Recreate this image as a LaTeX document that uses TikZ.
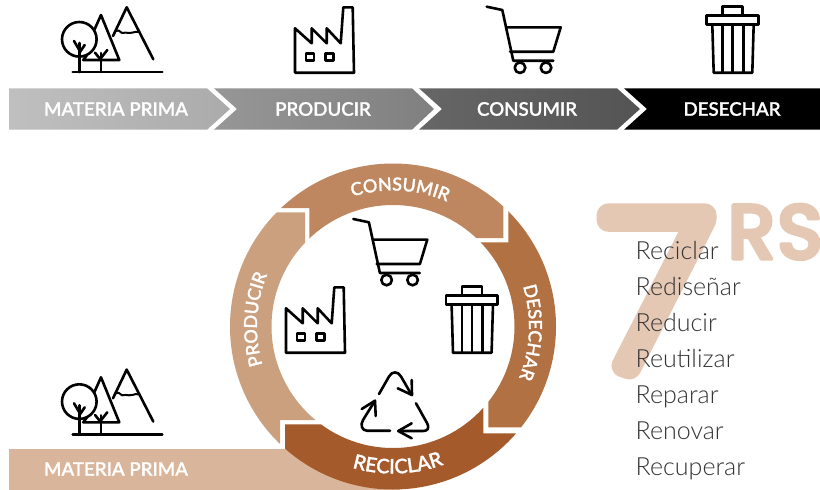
\documentclass[tikz,border=0pt]{standalone}
\usepackage{fontspec}
\setmainfont{Lato}
\newfontfamily\labfont[RawFeature={embolden=1.6}]{Lato Medium}
\newfontfamily\listfont{Lato Light}
\newfontfamily\sevenfont[RawFeature={embolden=10.5;extend=1.2}]{Fira Sans Thin}
\newfontfamily\rsfont[RawFeature={embolden=4}]{Poppins Medium}
\usetikzlibrary{decorations.text}
\definecolor{cPro}{HTML}{CBA07E}
\definecolor{cCon}{HTML}{BE875F}
\definecolor{cDes}{HTML}{B27142}
\definecolor{cRec}{HTML}{A55A2B}
\definecolor{cMat}{HTML}{D9B69B}
\definecolor{cSev}{HTML}{E5C8B4}
\definecolor{cTxt}{HTML}{333333}
\tikzset{
 x=1pt,y=-1pt,
 icon/.style={line width=2.6pt,line cap=round,line join=round,draw=black},
 barlabel/.style={font=\labfont\fontsize{18.7}{19}\selectfont,text=white,inner sep=0pt,anchor=center},
 listitem/.style={font=\listfont\fontsize{25}{25}\selectfont,text=cTxt,inner sep=0pt,anchor=base west},
 forest/.pic={
  \draw[icon] (72.7,72)--(162.3,72);
  \draw[icon] (79.3,39.3) circle[radius=17.3pt];
  \draw[icon] (79.3,72)--(79.3,43);
  \draw[icon] (74,41)--(79.3,50) (84.7,45)--(79.3,53);
  \draw[icon] (94.3,30)--(101,15)--(119.3,60)--(83.3,60)--(87,55);
  \draw[icon] (101,72)--(101,53);
  \draw[icon] (95,52.7)--(101,60) (107.3,50)--(101,58);
  \draw[icon] (113,36)--(126.7,7.3)--(153.3,59.3);
  \draw[icon,line width=2pt] (116,31) .. controls (118,29) and (119,31) .. (122,33) .. controls (125,34) and (126,31) .. (129,33) .. controls (132,34) and (134,31) .. (138,32);
 },
 factory/.pic={
  \draw[icon] (295,72.7)--(295,28.3)--(311.7,43.3)--(311.7,28.3)--(326.7,43.3)--(326.7,28.3)--(340.7,43.3)--(343.3,7.3)--(352.7,7.3)--(354,72.7)--cycle;
  \draw[icon] (306,53.3) rectangle (314,60.7);
  \draw[icon] (325.7,53.3) rectangle (333.5,60.7);
 },
 cart/.pic={
  \draw[icon] (486.7,6.7)--(502.3,10)--(513.3,60.7)--(553.3,60.7);
  \draw[icon] (506.7,27.3)--(560.7,27.3)--(553.3,51.7)--(510,51.7);
  \draw[icon] (520,67.7) circle[radius=5.3pt];
  \draw[icon] (546,67.7) circle[radius=5.3pt];
 },
 trash/.pic={
  \draw[icon] (706.7,15.7) rectangle (758.3,24.3);
  \draw[icon] (722.7,15.7)--(722.7,6.7)--(742.7,6.7)--(742.7,15.7);
  \draw[icon] (712.3,24.3)--(713.7,72.7)--(752.3,72.7)--(753.7,24.3);
  \draw[icon] (722.7,24.3)--(722.7,72.7) (732.7,24.3)--(732.7,72.7) (743.3,24.3)--(743.3,72.7);
 },
 recycle/.pic={
  \draw[icon] (379,394) -- (389,376.5) .. controls (392,371) and (398,371) .. (401,376.5) -- (411.7,395);
  \draw[icon] (397.7,388.3)--(412,395)--(411.7,380);
  \draw[icon] (416,403.3)--(427,423) .. controls (430,429) and (427,431) .. (423,431) -- (398.3,431);
  \draw[icon] (411.7,423.3)--(398.3,431)--(411.7,438.3);
  \draw[icon] (390,430.7)--(367,430.7) .. controls (362,430.7) and (360,425) .. (363,420) -- (375,400.7);
  \draw[icon] (361.7,409)--(375,400.7)--(375.7,416);
 }
}
\newcommand{\ringfill}[1]{\fill[#1,even odd rule] (393,326.5) circle[radius=163pt] (393,326.5) circle[radius=121.5pt];}
\newcommand{\ringtext}[5]{\path[decorate,decoration={text along path,text align=center,text={|\labfont\fontsize{#5}{#5}\selectfont\color{white}|#1}}] (393,326.5) ++(#2:#4 pt) arc[start angle=#2,end angle=#3,radius=#4 pt];}
\begin{document}
\begin{tikzpicture}
\useasboundingbox (0,0) rectangle (820,490);
\fill[white] (0,0) rectangle (820,490);
% top bar
\shade[left color=black!25,right color=black!33] (9,88.3)--(207,88.3)--(230,109)--(207,129.7)--(9,129.7)--cycle;
\shade[left color=black!41,right color=black!50] (214,88.3)--(412,88.3)--(434,109)--(412,129.7)--(214,129.7)--(237,109)--cycle;
\shade[left color=black!60,right color=black!67] (419,88.3)--(617,88.3)--(640,109)--(617,129.7)--(419,129.7)--(442,109)--cycle;
\fill[black] (624,88.3)--(820,88.3)--(820,129.7)--(624,129.7)--(647,109)--cycle;
\node[barlabel] (t1) at (116,109) {MATERIA PRIMA};
\node[barlabel] (t2) at (323,109) {PRODUCIR};
\node[barlabel] (t3) at (527,109) {CONSUMIR};
\node[barlabel] (t4) at (732,109) {DESECHAR};
\pic at (0,0) {forest};
\pic at (0,0) {factory};
\pic at (0,0) {cart};
\pic at (0,0) {trash};
% strip
\fill[cMat] (9,449.3) rectangle (400,490);
% ring
\begin{scope}
\clip (393,326.5)--(330,420)--(280,420)--(280,500)--(180,500)--(180,212.3)--(305,212.3)--(305,250)--cycle;
\ringfill{cPro}
\end{scope}
\begin{scope}
\clip (393,326.5)--(309.3,250)--(309.3,208)--(240,208)--(240,150)--(503.3,150)--(503.3,238)--(460,238)--cycle;
\ringfill{cCon}
\end{scope}
\begin{scope}
\clip (393,326.5)--(460,242.3)--(508.3,242.3)--(508.3,150)--(600,150)--(600,427.3)--(488.3,427.3)--(488.3,380)--cycle;
\ringfill{cDes}
\end{scope}
\begin{scope}
\clip (393,326.5)--(483.3,380)--(483.3,433.3)--(600,433.3)--(600,500)--(285,500)--(285,424.3)--(330,424.3)--cycle;
\ringfill{cRec}
\end{scope}
\ringtext{CONSUMIR}{137}{37}{136}{18}
\ringtext{DESECHAR}{47.5}{-52.5}{136}{18}
\ringtext{RECICLAR}{222}{322}{147}{20}
\ringtext{PRODUCIR}{227}{127}{136}{18}
\node[barlabel] (b1) at (116,469) {MATERIA PRIMA};
\pic at (0,362.3) {forest};
\pic at (-9,280) {factory};
\pic at (-133.4,212.3) {cart};
\pic at (-260.7,280) {trash};
\pic {recycle};
% 7 RS
\node[font=\sevenfont\fontsize{228}{228}\selectfont,text=cSev,inner sep=0pt,anchor=base west,line join=round,line cap=round] (seven) at (598,366) {7};
\node[font=\rsfont\fontsize{78}{78}\selectfont,text=cSev,inner sep=0pt,anchor=base west,line join=round] (rs) at (727,259) {RS};
\node[listitem] (l1) at (635.5,259.3) {Reciclar};
\node[listitem] (l2) at (635.5,295.3) {Rediseñar};
\node[listitem] (l3) at (635.5,331.3) {Reducir};
\node[listitem] (l4) at (635.5,367.3) {Reutilizar};
\node[listitem] (l5) at (635.5,403.3) {Reparar};
\node[listitem] (l6) at (635.5,439.3) {Renovar};
\node[listitem] (l7) at (635.5,475.3) {Recuperar};
\end{tikzpicture}
\end{document}
